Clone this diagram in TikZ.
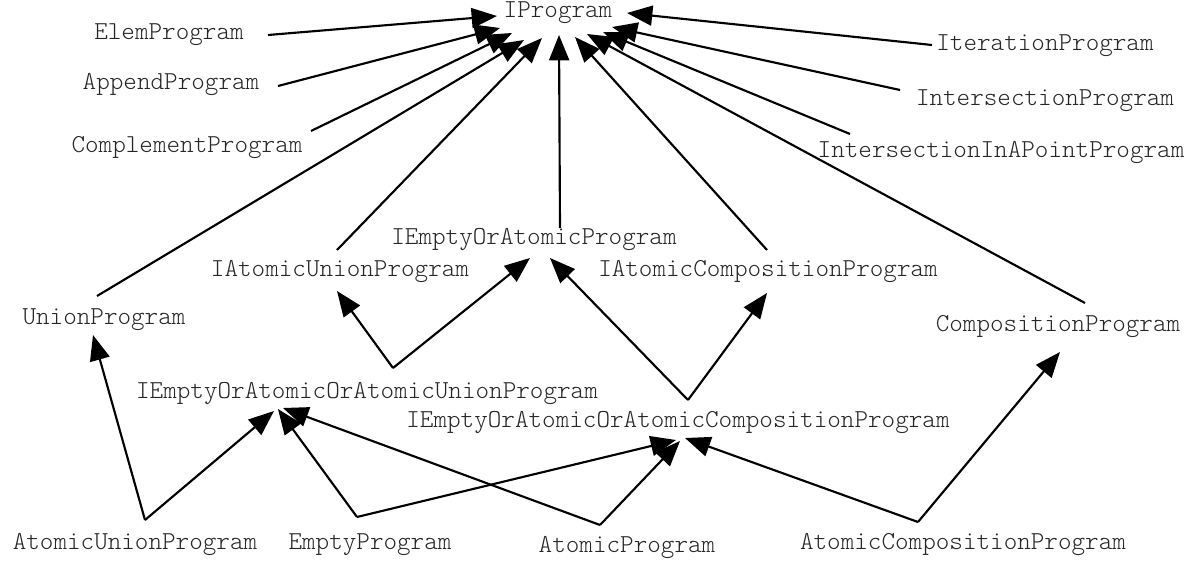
\documentclass[tikz,border=0pt]{standalone}
\usetikzlibrary{arrows.meta}
\begin{document}
\begin{tikzpicture}[x=0.75pt,y=-0.75pt,
  cls/.style={font=\ttfamily\fontseries{l}\fontsize{19.4}{19.4}\selectfont, text=black!85, inner sep=0pt},
  inh/.style={line width=1.6pt, -{Triangle[length=19pt,width=15pt]}}]
\useasboundingbox (0,0) rectangle (1199,563);

% class names
\node[cls] (ip)    at (558,13)  {IProgram};
\node[cls] (elem)  at (169,35)  {ElemProgram};
\node[cls] (app)   at (171,85)  {AppendProgram};
\node[cls] (compl) at (187,148) {ComplementProgram};
\node[cls] (iter)  at (1045,46) {IterationProgram};
\node[cls] (inter) at (1045,101){IntersectionProgram};
\node[cls] (iiap)  at (1001,153){IntersectionInAPointProgram};
\node[cls] (ieoa)  at (534,240) {IEmptyOrAtomicProgram};
\node[cls] (iau)   at (340,272) {IAtomicUnionProgram};
\node[cls] (iac)   at (768,272) {IAtomicCompositionProgram};
\node[cls] (union) at (104,320) {UnionProgram};
\node[cls] (comp)  at (1058,327){CompositionProgram};
\node[cls] (ieu)   at (367,394) {IEmptyOrAtomicOrAtomicUnionProgram};
\node[cls] (iec)   at (678,423) {IEmptyOrAtomicOrAtomicCompositionProgram};
\node[cls] (aup)   at (135,545) {AtomicUnionProgram};
\node[cls] (emp)   at (370,545) {EmptyProgram};
\node[cls] (atp)   at (627,548) {AtomicProgram};
\node[cls] (acp)   at (963,545) {AtomicCompositionProgram};

% connector tails
\coordinate (elem-t)  at (268,35);
\coordinate (app-t)   at (278,86);
\coordinate (compl-t) at (311,131);
\coordinate (union-t) at (97,296);
\coordinate (iau-t)   at (337,250);
\coordinate (ieoa-t)  at (560,228);
\coordinate (iac-t)   at (767,250);
\coordinate (comp-t)  at (1085,303);
\coordinate (iiap-t)  at (850,134);
\coordinate (inter-t) at (900,90);
\coordinate (iter-t)  at (932,45);
\coordinate (ieu-t)   at (393,368);
\coordinate (iec-t)   at (688,400);
\coordinate (aup-t)   at (145,520);
\coordinate (emp-t)   at (357,517);
\coordinate (atp-t)   at (600,525);
\coordinate (acp-t)   at (918,522);

% arrow tips around IProgram
\coordinate (ip-elem)  at (497,16);
\coordinate (ip-app)   at (500,28);
\coordinate (ip-compl) at (512,33);
\coordinate (ip-union) at (524,40);
\coordinate (ip-iau)   at (542,38);
\coordinate (ip-ieoa)  at (559,35);
\coordinate (ip-iac)   at (575,37);
\coordinate (ip-comp)  at (587,34);
\coordinate (ip-iiap)  at (603,32);
\coordinate (ip-inter) at (612,27);
\coordinate (ip-iter)  at (627,13);

% other arrow tips
\coordinate (iau-h)    at (337,291);
\coordinate (ieoa-h1)  at (530,258);
\coordinate (ieoa-h2)  at (550,258);
\coordinate (iac-h)    at (767,293);
\coordinate (union-h)  at (93,335);
\coordinate (comp-h)   at (1060,352);
\coordinate (ieu-h1)   at (274,411);
\coordinate (ieu-h2)   at (278,409);
\coordinate (ieu-h3)   at (283,408);
\coordinate (iec-h1)   at (676,440);
\coordinate (iec-h2)   at (680,441);
\coordinate (iec-h3)   at (685,438);

% generalisations into IProgram
\draw[inh] (elem-t)  -- (ip-elem);
\draw[inh] (app-t)   -- (ip-app);
\draw[inh] (compl-t) -- (ip-compl);
\draw[inh] (union-t) -- (ip-union);
\draw[inh] (iau-t)   -- (ip-iau);
\draw[inh] (ieoa-t)  -- (ip-ieoa);
\draw[inh] (iac-t)   -- (ip-iac);
\draw[inh] (comp-t)  -- (ip-comp);
\draw[inh] (iiap-t)  -- (ip-iiap);
\draw[inh] (inter-t) -- (ip-inter);
\draw[inh] (iter-t)  -- (ip-iter);

% middle layer
\draw[inh] (ieu-t) -- (iau-h);
\draw[inh] (ieu-t) -- (ieoa-h1);
\draw[inh] (iec-t) -- (ieoa-h2);
\draw[inh] (iec-t) -- (iac-h);

% concrete programs
\draw[inh] (aup-t) -- (union-h);
\draw[inh] (aup-t) -- (ieu-h1);
\draw[inh] (emp-t) -- (ieu-h2);
\draw[inh] (atp-t) -- (ieu-h3);
\draw[inh] (emp-t) -- (iec-h1);
\draw[inh] (atp-t) -- (iec-h2);
\draw[inh] (acp-t) -- (iec-h3);
\draw[inh] (acp-t) -- (comp-h);
\end{tikzpicture}
\end{document}
